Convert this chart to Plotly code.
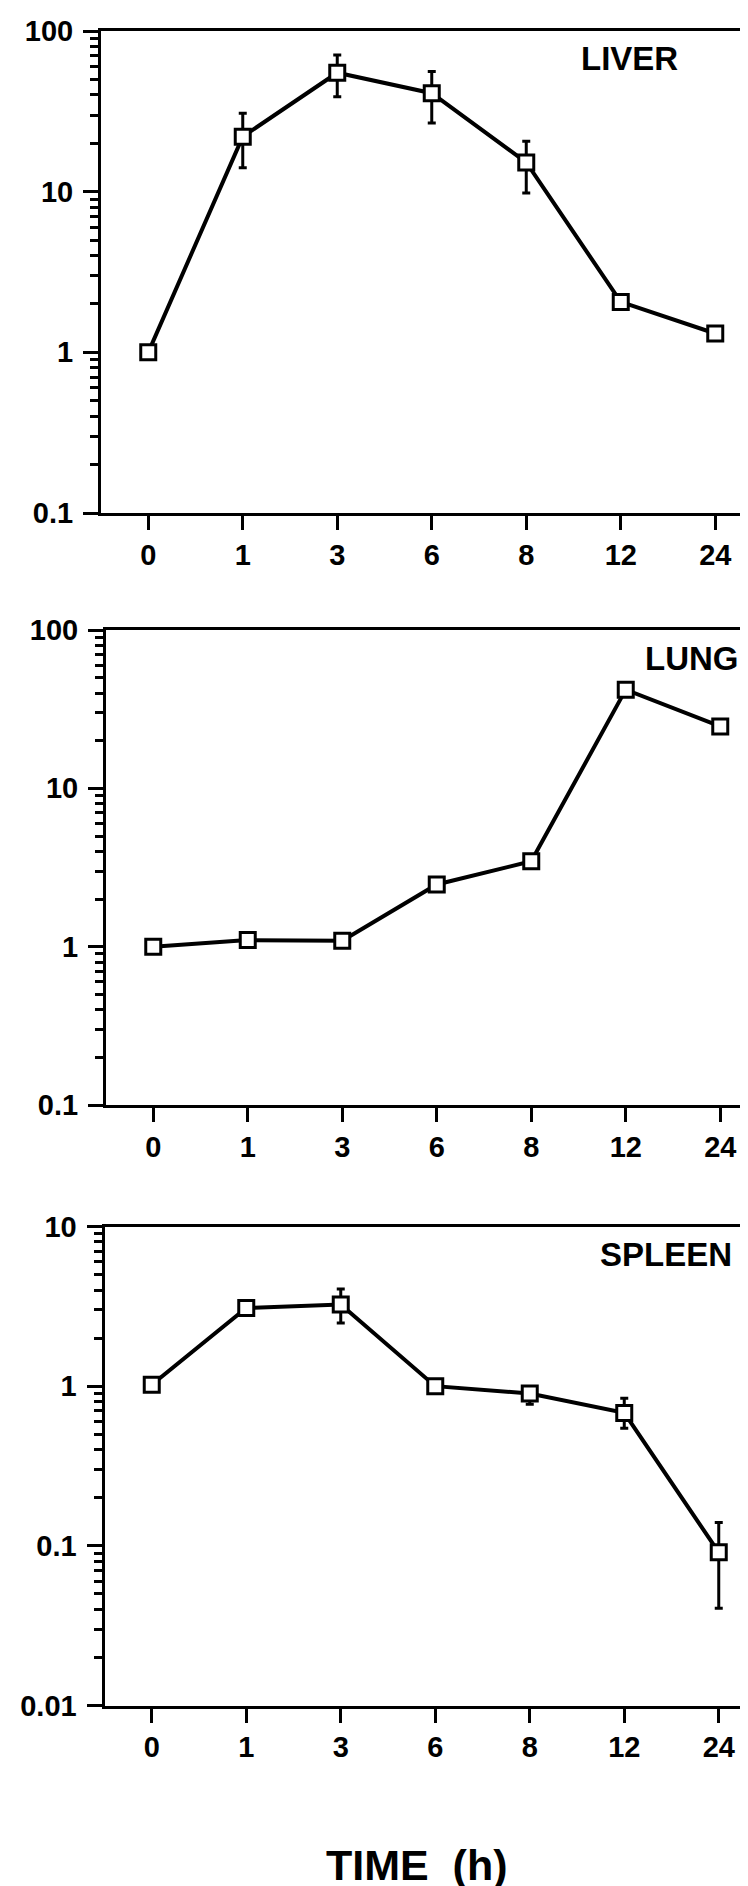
import plotly.graph_objects as go

W, H = 748, 1886

time_labels = ["0", "1", "3", "6", "8", "12", "24"]

liver = [1.0, 22.0, 55.0, 41.0, 15.2, 2.06, 1.31]
liver_hi = [1.0, 30.8, 71.0, 56.0, 20.6, 2.06, 1.31]
liver_lo = [1.0, 14.1, 39.0, 26.8, 9.8, 2.06, 1.31]

lung = [1.0, 1.10, 1.09, 2.47, 3.46, 42.0, 24.6]
lung_hi = [1.0, 1.10, 1.09, 2.47, 3.46, 42.0, 24.6]
lung_lo = [1.0, 1.10, 1.0, 2.47, 3.46, 42.0, 24.6]

spleen = [1.02, 3.09, 3.25, 1.0, 0.90, 0.68, 0.091]
spleen_hi = [1.02, 3.09, 4.06, 1.0, 0.97, 0.84, 0.140]
spleen_lo = [1.02, 3.09, 2.49, 1.0, 0.77, 0.546, 0.0406]

panel_names = ["LIVER", "LUNG", "SPLEEN"]
y_ticks_12 = [0.1, 1, 10, 100]
y_ticktext_12 = ["0.1", "1", "10", "100"]
y_minor_12 = [0.2, 0.3, 0.4, 0.5, 0.6, 0.7, 0.8, 0.9,
              2, 3, 4, 5, 6, 7, 8, 9,
              20, 30, 40, 50, 60, 70, 80, 90]
y_ticks_3 = [0.01, 0.1, 1, 10]
y_ticktext_3 = ["0.01", "0.1", "1", "10"]
y_minor_3 = [0.02, 0.03, 0.04, 0.05, 0.06, 0.07, 0.08, 0.09,
             0.2, 0.3, 0.4, 0.5, 0.6, 0.7, 0.8, 0.9,
             2, 3, 4, 5, 6, 7, 8, 9]

# layout geometry (pixels)
panels = [
    dict(left=93, top=23, bottom=505, yr=[-1, 2], tv=y_ticks_12, tt=y_ticktext_12, mv=y_minor_12,
         data=(liver, liver_hi, liver_lo), label_xy=(621, 51)),
    dict(left=98, top=622, bottom=1097, yr=[-1, 2], tv=y_ticks_12, tt=y_ticktext_12, mv=y_minor_12,
         data=(lung, lung_hi, lung_lo), label_xy=(684, 650)),
    dict(left=96.5, top=1218.5, bottom=1697.5, yr=[-2, 1], tv=y_ticks_3, tt=y_ticktext_3, mv=y_minor_3,
         data=(spleen, spleen_hi, spleen_lo), label_xy=(658, 1246)),
]
unit = 94.5

fig = go.Figure()
tick_font = dict(family="Liberation Sans, Arial, sans-serif", size=29, color="black",
                 weight="bold")
annotations = []
for i, p in enumerate(panels):
    k = "" if i == 0 else str(i + 1)
    vals, hi, lo = p["data"]
    fig.add_trace(go.Scatter(
        x=time_labels, y=vals, xaxis="x" + k, yaxis="y" + k,
        mode="lines+markers",
        line=dict(color="black", width=4),
        marker=dict(symbol="square", size=15, color="white",
                    line=dict(color="black", width=3)),
        error_y=dict(type="data", symmetric=False,
                     array=[h - v for h, v in zip(hi, vals)],
                     arrayminus=[v - l for v, l in zip(vals, lo)],
                     color="black", thickness=3, width=4),
        showlegend=False, cliponaxis=False,
    ))
    x0 = p["left"] / W
    xmax = -0.5 + (W - p["left"]) / unit
    y0 = 1 - p["bottom"] / H
    y1 = 1 - p["top"] / H
    fig.layout["xaxis" + k] = dict(
        domain=[x0, 1], anchor="y" + k, type="category",
        range=[-0.5, xmax], showline=True, linecolor="black", linewidth=3,
        mirror=True, ticks="outside", ticklen=14, tickwidth=2.5, tickcolor="black",
        tickfont=tick_font, showgrid=False, zeroline=False,
        ticklabelstandoff=0, automargin=False, fixedrange=True,
    )
    fig.layout["yaxis" + k] = dict(
        domain=[y0, y1], anchor="x" + k, type="log", range=p["yr"],
        showline=True, linecolor="black", linewidth=3, mirror=False,
        ticks="outside", ticklen=15, tickwidth=2.5, tickcolor="black",
        tickmode="array", tickvals=p["tv"], ticktext=p["tt"],
        tickfont=tick_font, showgrid=False, zeroline=False,
        ticklabelstandoff=4, automargin=False,
        minor=dict(ticks="outside", ticklen=8, tickwidth=2.5, tickcolor="black",
                   tickmode="array", tickvals=p["mv"], showgrid=False),
    )
    annotations.append(dict(
        text="<b>" + panel_names[i] + "</b>", xref="paper", yref="paper",
        x=p["label_xy"][0] / W, y=1 - p["label_xy"][1] / H,
        xanchor="center", yanchor="middle", showarrow=False,
        font=dict(family="Liberation Sans, Arial, sans-serif", size=33, color="black"),
    ))

annotations.append(dict(
    text="<b>TIME  (h)</b>", xref="paper", yref="paper",
    x=409 / W, y=1 - 1857 / H, xanchor="center", yanchor="middle", showarrow=False,
    font=dict(family="Liberation Sans, Arial, sans-serif", size=43, color="black"),
))

fig.update_layout(
    width=W, height=H, margin=dict(l=0, r=0, t=0, b=0),
    paper_bgcolor="white", plot_bgcolor="white",
    annotations=annotations,
)
fig.write_html("out.html")
